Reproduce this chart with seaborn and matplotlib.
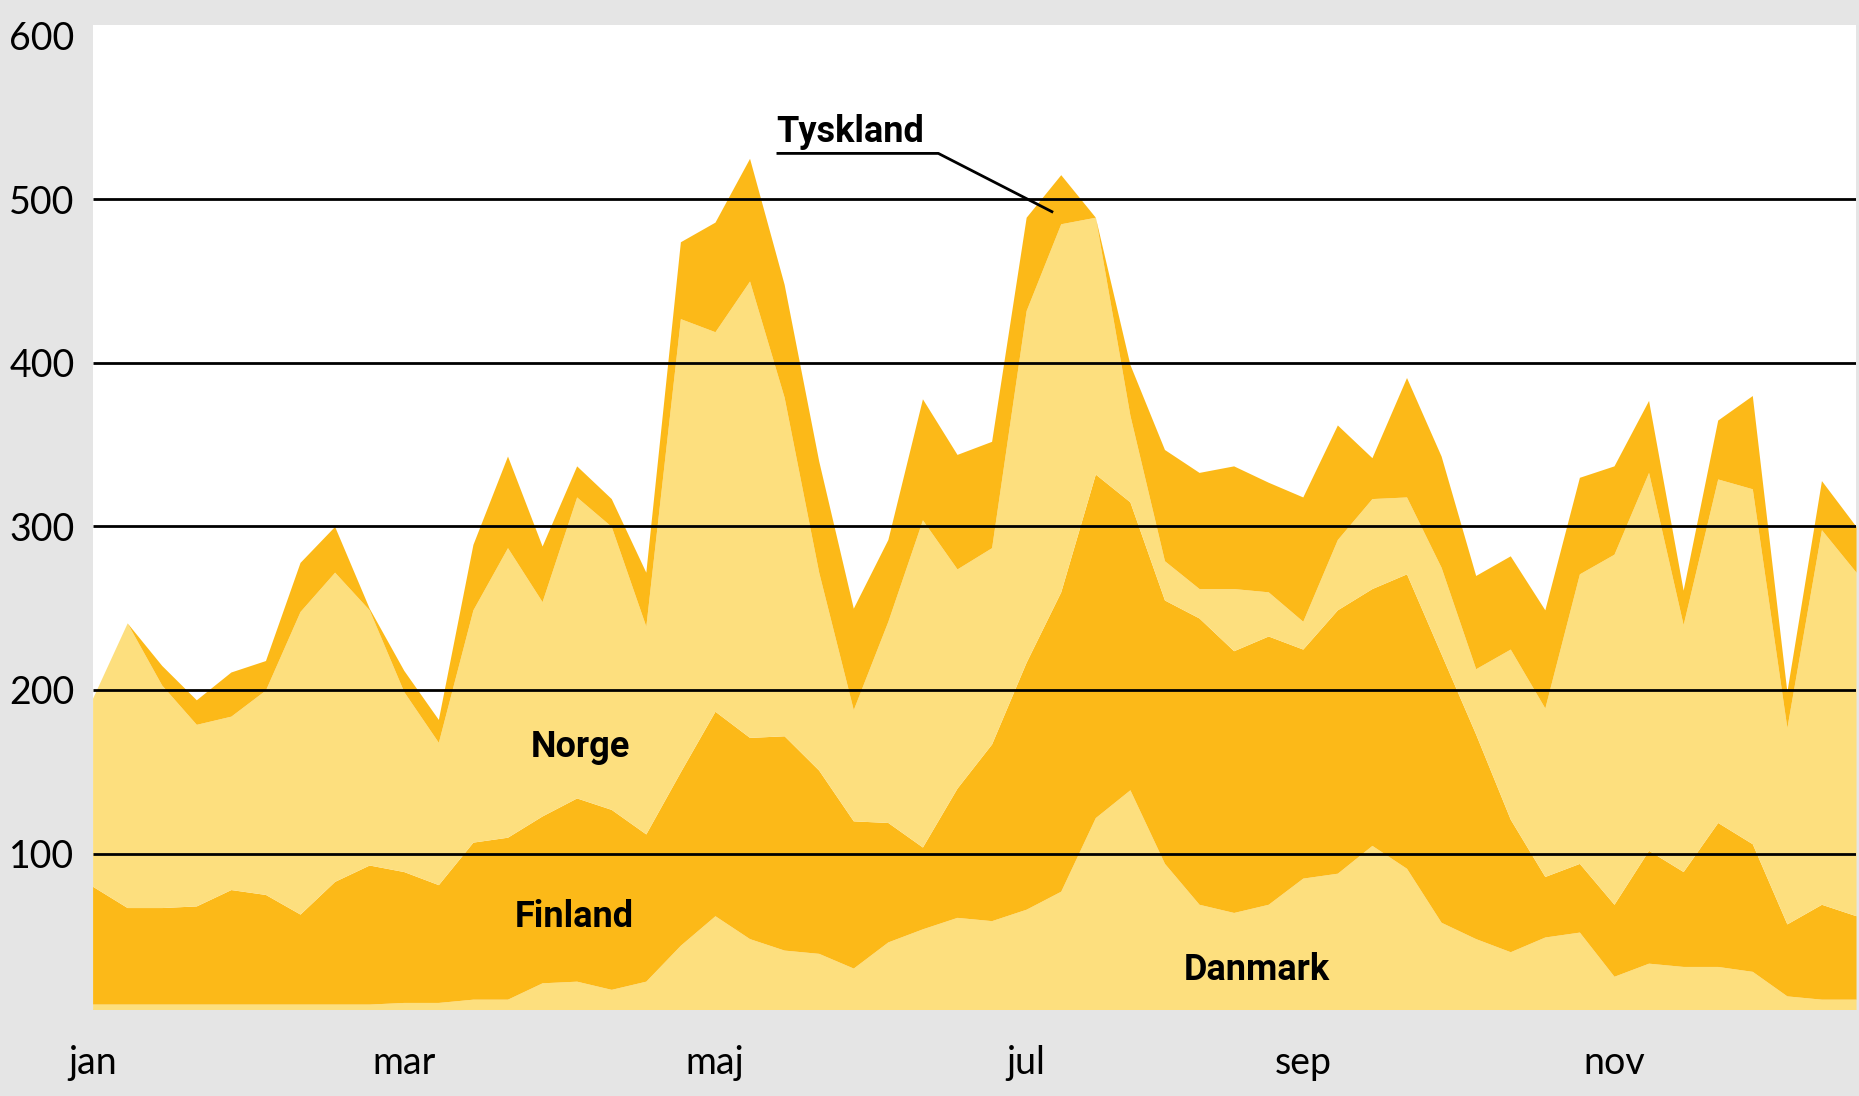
import seaborn as sns
import matplotlib.pyplot as plt

# weekly values, stacked from the bottom
weeks = list(range(52))
month_ticks = [0, 9, 18, 27, 35, 44]
month_labels = ["jan", "mar", "maj", "jul", "sep", "nov"]
y_ticks = [100, 200, 300, 400, 500, 600]

danmark = [8, 8, 8, 8, 8, 8, 8, 8, 8, 9, 9, 11, 11, 21, 22, 17, 22, 44, 62, 48,
           41, 39, 30, 46, 54, 61, 59, 66, 77, 122, 139, 94, 69, 64, 69, 85, 88, 105,
           91, 58, 48, 40, 49, 52, 25, 33, 31, 31, 28, 13, 11, 11]
finland = [72, 59, 59, 60, 70, 67, 55, 75, 85, 80, 72, 96, 99, 102, 112, 110, 90, 106,
           125, 123, 131, 112, 90, 73, 50, 79, 108, 151, 183, 210, 176, 161, 175, 160,
           164, 140, 161, 157, 180, 164, 125, 81, 37, 42, 44, 69, 58, 88, 78, 44, 58, 51]
norge = [115, 174, 136, 111, 106, 125, 185, 189, 156, 110, 87, 142, 177, 131, 184, 173,
         127, 277, 232, 279, 207, 121, 68, 123, 200, 134, 120, 215, 225, 157, 53, 24, 18,
         38, 27, 17, 43, 55, 47, 53, 40, 104, 103, 177, 214, 231, 151, 210, 217, 120, 229, 210]
tyskland = [0, 0, 12, 15, 27, 18, 30, 28, 1, 13, 14, 40, 56, 34, 19, 17, 33, 47, 67, 75,
            69, 68, 62, 50, 74, 70, 65, 57, 30, 0, 31, 68, 71, 75, 67, 76, 70, 25, 73, 68,
            57, 57, 60, 59, 54, 44, 21, 36, 57, 22, 30, 28]

light = "#FDDF7E"
dark = "#FCB918"
bg = "#E5E5E5"

sns.set_theme(style="white")
plt.rcParams["font.family"] = ["Lato", "DejaVu Sans"]
plt.rcParams["text.color"] = "black"
label_font = ["Liberation Sans Narrow", "Roboto", "DejaVu Sans"]

fig = plt.figure(figsize=(18.59, 10.96), dpi=100, facecolor=bg)
ax = fig.add_axes([0.0498, 0.0794, 0.9486, 0.8978])
ax.set_facecolor("white")

ax.stackplot(weeks, danmark, finland, norge, tyskland,
             colors=[light, dark, light, dark], linewidth=0)

ax.hlines(y_ticks[:-1], 0, 51, color="black", linewidth=2, zorder=3)

ax.set_xlim(0, 51)
ax.set_ylim(5, 606.5)
ax.set_xticks(month_ticks)
ax.set_xticklabels(month_labels)
ax.set_yticks(y_ticks)
ax.set_yticklabels([str(v) for v in y_ticks])
ax.tick_params(axis="both", length=0, labelsize=27, labelcolor="black")
ax.tick_params(axis="y", pad=13)
ax.tick_params(axis="x", pad=26)
sns.despine(ax=ax, left=True, bottom=True)

# series labels
lab_kw = dict(fontsize=26, fontweight="bold", family=label_font, color="black")
ax.text(19.78, 535, "Tyskland", **lab_kw)
ax.plot([19.78, 24.46, 27.78], [528, 528, 492], color="black", linewidth=2,
        solid_capstyle="butt", zorder=4)
ax.text(12.66, 159, "Norge", **lab_kw)
ax.text(12.22, 55, "Finland", **lab_kw)
ax.text(31.57, 23, "Danmark", **lab_kw)

fig.savefig("out.png", dpi=100, facecolor=bg)
